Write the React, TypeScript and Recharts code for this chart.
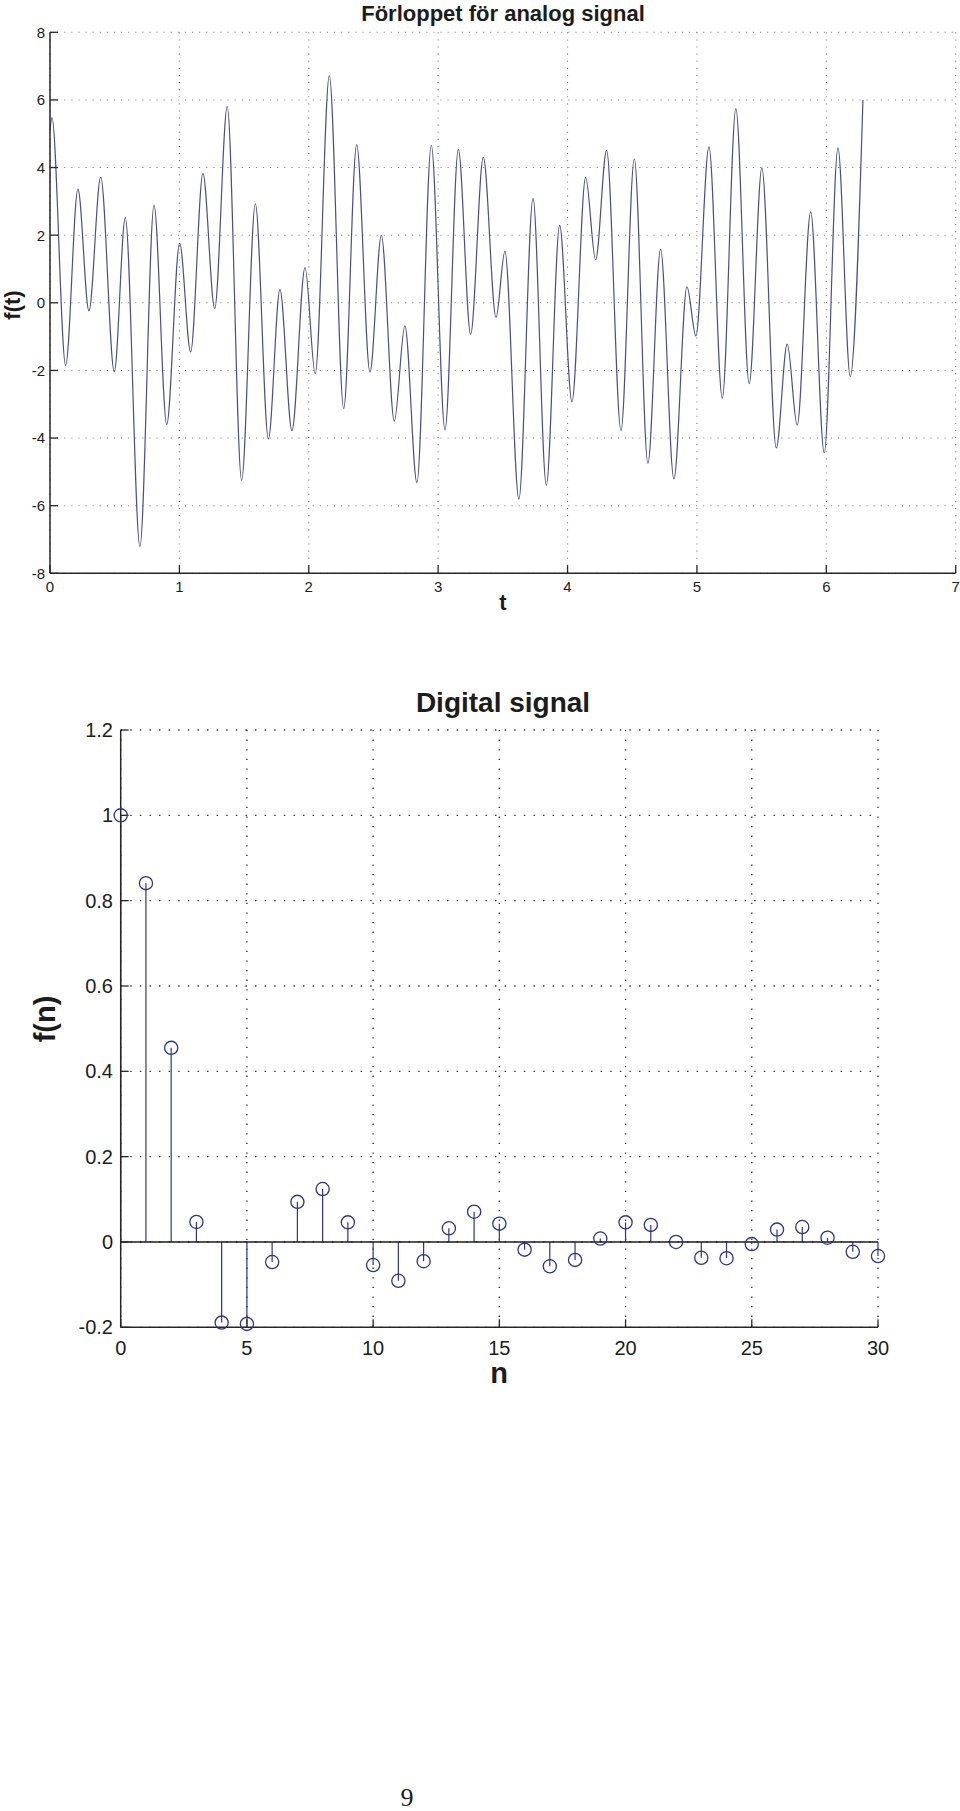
import React from 'react';
import {
  LineChart,
  Line,
  XAxis,
  YAxis,
  CartesianGrid,
  ComposedChart,
  Bar,
  Scatter,
  ReferenceLine,
} from 'recharts';

// ---------- Analog signal (extrema) ----------
const analogT = [
  0, 0.015, 0.121, 0.216, 0.301, 0.392, 0.497, 0.582, 0.695, 0.804, 0.902,
  1.002, 1.087, 1.182, 1.273, 1.37, 1.481, 1.587, 1.688, 1.777, 1.87, 1.971,
  2.05, 2.159, 2.27, 2.37, 2.473, 2.561, 2.661, 2.743, 2.836, 2.947,
  3.053, 3.156, 3.251, 3.349, 3.447, 3.516, 3.624, 3.733, 3.836, 3.939,
  4.034, 4.14, 4.217, 4.302, 4.413, 4.516, 4.621, 4.719, 4.822, 4.923, 4.992,
  5.093, 5.196, 5.301, 5.404, 5.502, 5.613, 5.698, 5.775, 5.879, 5.984,
  6.09, 6.185, 6.283,
];
const analogF = [
  5.1, 5.48, -1.85, 3.36, -0.24, 3.72, -2.04, 2.52, -7.21, 2.88, -3.6,
  1.76, -1.45, 3.82, -0.17, 5.81, -5.25, 2.93, -4.03, 0.39, -3.78, 1.04,
  -2.1, 6.72, -3.13, 4.68, -2.05, 1.99, -3.5, -0.68, -5.32, 4.66,
  -3.76, 4.54, -0.93, 4.31, -0.43, 1.52, -5.81, 3.09, -5.4, 2.29,
  -2.93, 3.71, 1.27, 4.51, -3.78, 4.26, -4.75, 1.59, -5.21, 0.47, -0.98,
  4.61, -2.82, 5.74, -2.39, 3.99, -4.29, -1.22, -3.62, 2.69, -4.44,
  4.58, -2.18, 6.0,
];
const analogXTicks = [0, 1, 2, 3, 4, 5, 6, 7];
const analogYTicks = [-8, -6, -4, -2, 0, 2, 4, 6, 8];

// ---------- Digital signal ----------
const digitalN = [
  0, 1, 2, 3, 4, 5, 6, 7, 8, 9, 10, 11, 12, 13, 14, 15, 16, 17, 18, 19, 20,
  21, 22, 23, 24, 25, 26, 27, 28, 29, 30,
];
const digitalF = [
  1.0, 0.841, 0.455, 0.047, -0.189, -0.192, -0.047, 0.094, 0.124, 0.046,
  -0.054, -0.091, -0.045, 0.032, 0.071, 0.043, -0.018, -0.057, -0.042, 0.008,
  0.046, 0.04, 0.0, -0.037, -0.038, -0.005, 0.029, 0.035, 0.01, -0.023, -0.033,
];
const digitalXTicks = [0, 5, 10, 15, 20, 25, 30];
const digitalYTicks = [-0.2, 0, 0.2, 0.4, 0.6, 0.8, 1, 1.2];

const FONT = '"Liberation Sans", Arial, Helvetica, sans-serif';
const AXIS = '#262626';
const TEXT = '#1c1c1c';
const LINE_COLOR = '#4a4e8c';
const STEM_COLOR = '#2f3484';

const analogData = analogT.map((t, i) => ({ t, f: analogF[i] }));
const digitalData = digitalN.map((n, i) => ({ n, f: digitalF[i] }));

const fmtDigital = (v: number) => {
  const r = Math.round(v * 10) / 10;
  return r === 0 ? '0' : String(r);
};

const Ring = (props: any) => {
  const { cx, cy } = props;
  if (cx == null || cy == null) return null;
  return <circle cx={cx} cy={cy} r={6.6} fill="none" stroke={STEM_COLOR} strokeWidth={1.3} />;
};

export default function App() {
  const axisLine = { stroke: AXIS, strokeWidth: 1.5 };
  const tickLine = { stroke: AXIS, strokeWidth: 1.3 };
  return (
    <div style={{ position: 'absolute', left: 0, top: 0, width: 960, height: 1811, background: '#fff' }}>
      {/* Top chart */}
      <div style={{ position: 'absolute', left: 0, top: 0 }}>
        <LineChart
          width={960}
          height={620}
          data={analogData}
          margin={{ top: 32.3, right: 4.3, bottom: 16.7, left: 0 }}
        >
          <CartesianGrid stroke="#7e7e7e" strokeWidth={1.1} strokeDasharray="1.1 6" />
          <XAxis
            dataKey="t"
            type="number"
            domain={[0, 7]}
            ticks={analogXTicks}
            interval={0}
            height={30}
            axisLine={axisLine}
            tickLine={tickLine}
            tickSize={-8}
            tickMargin={16.4}
            tick={{ fontSize: 15, fill: TEXT, fontFamily: FONT }}
          />
          <XAxis
            xAxisId="top"
            orientation="top"
            dataKey="t"
            type="number"
            domain={[0, 7]}
            ticks={analogXTicks}
            interval={0}
            height={0}
            axisLine={axisLine}
            tickLine={tickLine}
            tickSize={-8}
            tick={false}
          />
          <YAxis
            type="number"
            domain={[-8, 8]}
            ticks={analogYTicks}
            interval={0}
            width={50}
            axisLine={axisLine}
            tickLine={tickLine}
            tickSize={-8}
            tickMargin={13}
            tick={{ fontSize: 15, fill: TEXT, fontFamily: FONT }}
          />
          <YAxis
            yAxisId="right"
            orientation="right"
            type="number"
            domain={[-8, 8]}
            ticks={analogYTicks}
            interval={0}
            width={0}
            axisLine={axisLine}
            tickLine={tickLine}
            tickSize={-8}
            tick={false}
          />
          <Line
            type="monotone"
            dataKey="f"
            stroke={LINE_COLOR}
            strokeWidth={1.2}
            dot={false}
            isAnimationActive={false}
          />
        </LineChart>
      </div>

      {/* Bottom chart */}
      <div style={{ position: 'absolute', left: 0, top: 680 }}>
        <ComposedChart
          width={960}
          height={720}
          data={digitalData}
          margin={{ top: 50, right: 82, bottom: 32.7, left: 0 }}
        >
          <CartesianGrid stroke="#222" strokeWidth={1.3} strokeDasharray="1.3 8.3" />
          <XAxis
            dataKey="n"
            type="number"
            domain={[0, 30]}
            ticks={digitalXTicks}
            interval={0}
            height={40}
            axisLine={axisLine}
            tickLine={tickLine}
            tickSize={-8}
            tickMargin={21}
            tick={{ fontSize: 20, fill: TEXT, fontFamily: FONT }}
          />
          <XAxis
            xAxisId="top"
            orientation="top"
            dataKey="n"
            type="number"
            domain={[0, 30]}
            ticks={digitalXTicks}
            interval={0}
            height={0}
            axisLine={axisLine}
            tickLine={tickLine}
            tickSize={-8}
            tick={false}
          />
          <YAxis
            type="number"
            domain={[-0.2, 1.2]}
            ticks={digitalYTicks}
            interval={0}
            width={120.7}
            axisLine={axisLine}
            tickLine={tickLine}
            tickSize={-8}
            tickMargin={15.7}
            tickFormatter={fmtDigital}
            tick={{ fontSize: 20, fill: TEXT, fontFamily: FONT }}
          />
          <YAxis
            yAxisId="right"
            orientation="right"
            type="number"
            domain={[-0.2, 1.2]}
            ticks={digitalYTicks}
            interval={0}
            width={0}
            axisLine={axisLine}
            tickLine={tickLine}
            tickSize={-8}
            tick={false}
          />
          <ReferenceLine y={0} stroke="#1a1a1a" strokeWidth={1.6} />
          <Bar dataKey="f" barSize={1.2} fill={STEM_COLOR} isAnimationActive={false} />
          <Scatter dataKey="f" shape={Ring} isAnimationActive={false} />
        </ComposedChart>
      </div>

      {/* Text overlay */}
      <svg
        width={960}
        height={1811}
        style={{ position: 'absolute', left: 0, top: 0, pointerEvents: 'none' }}
      >
        <text x={503} y={20.5} textAnchor="middle" fontFamily={FONT} fontWeight="bold" fontSize={22} fill={TEXT}>
          Förloppet för analog signal
        </text>
        <text
          transform="translate(19.5,305) rotate(-90)"
          textAnchor="middle"
          fontFamily={FONT}
          fontWeight="bold"
          fontSize={22}
          fill={TEXT}
        >
          f(t)
        </text>
        <text x={503} y={610} textAnchor="middle" fontFamily={FONT} fontWeight="bold" fontSize={22} fill={TEXT}>
          t
        </text>
        <text x={503} y={711.5} textAnchor="middle" fontFamily={FONT} fontWeight="bold" fontSize={28} fill={TEXT}>
          Digital signal
        </text>
        <text
          transform="translate(55,1019) rotate(-90)"
          textAnchor="middle"
          fontFamily={FONT}
          fontWeight="bold"
          fontSize={29}
          fill={TEXT}
        >
          f(n)
        </text>
        <text x={499} y={1383} textAnchor="middle" fontFamily={FONT} fontWeight="bold" fontSize={29} fill={TEXT}>
          n
        </text>
        <text x={407} y={1806} textAnchor="middle" fontFamily='"Liberation Serif", "Times New Roman", serif' fontSize={26} fill={TEXT}>
          9
        </text>
      </svg>
    </div>
  );
}
